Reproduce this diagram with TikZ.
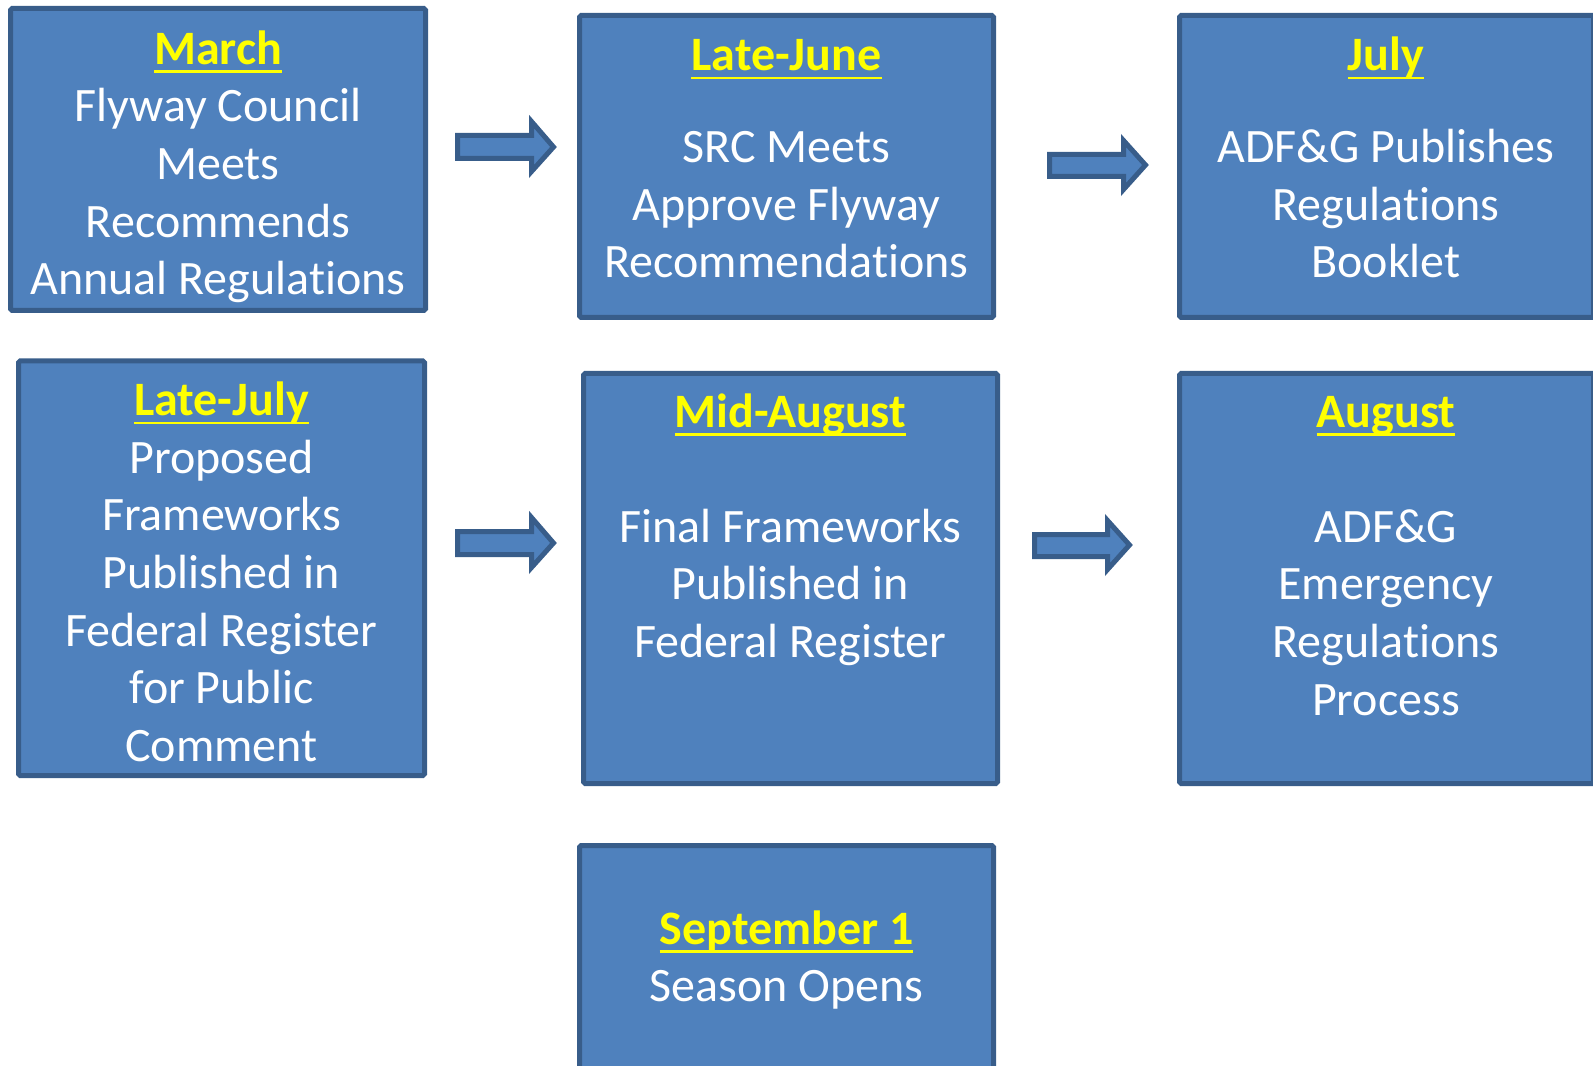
\documentclass[tikz,border=0pt]{standalone}
\usepackage{fontspec}
\setmainfont{Carlito}[Ligatures=NoCommon]
\usetikzlibrary{fit}
\definecolor{boxfill}{HTML}{4F81BD}
\definecolor{boxline}{HTML}{385D8A}
\definecolor{headyellow}{HTML}{FFFF00}
\newcommand\hdul[1]{\setbox0\hbox{#1}\rlap{\rule[-6.4pt]{\wd0}{2.1pt}}\box0}
\newcommand\hd[1]{\rule{0pt}{30pt}{\color{headyellow}\bfseries\hdul{#1}}}
\newcommand\blockarrow[8]{\draw[barrow] (#1,#4) -- (#2,#4) -- (#2,#6) -- (#3,#8) -- (#2,#7) -- (#2,#5) -- (#1,#5) -- cycle;}
\begin{document}
\begin{tikzpicture}[x=0.75pt,y=-0.75pt,
  box/.style={draw=boxline, fill=boxfill, line width=3.75pt, rounded corners=1.2pt, inner sep=0pt},
  txt/.style={anchor=north, align=center, text=white, inner sep=0pt, font=\fontsize{36}{43.2}\selectfont},
  barrow/.style={draw=boxline, fill=boxfill, line width=3.75pt, line join=miter}]
\useasboundingbox (0,0) rectangle (1593,1066);
\clip (0,0) rectangle (1593,1066);
% boxes
\node[box, fit={(10.5,8.5)(425.5,310.5)}] (march) {};
\node[box, fit={(579.5,15.5)(993.5,317.5)}] (latejune) {};
\node[box, fit={(1179.5,15.5)(1593.5,317.5)}] (july) {};
\node[box, fit={(18.5,361)(424.5,775.5)}] (latejuly) {};
\node[box, fit={(583.5,373.5)(997.5,783.5)}] (midaug) {};
\node[box, fit={(1179.5,373.5)(1593.5,783.5)}] (aug) {};
\node[box, fit={(579.5,845.5)(993.5,1100)}] (sept) {};
% texts
\node[txt] (marcht) at (218,24) {\hd{March}\\Flyway Council\\Meets\\Recommends\\Annual Regulations};
\node[txt] (latejunet) at (786.5,30.5) {\hd{Late-June}\\[25.6pt]SRC Meets\\Approve Flyway\\Recommendations};
\node[txt] (julyt) at (1386,30.5) {\hd{July}\\[25.6pt]ADF\&G Publishes\\Regulations\\Booklet};
\node[txt] (latejulyt) at (221.5,375.5) {\hd{Late-July}\\Proposed\\Frameworks\\Published in\\Federal Register\\for Public\\Comment};
\node[txt] (midaugt) at (790.5,387) {\hd{Mid-August}\\[43pt]Final Frameworks\\Published in\\Federal Register};
\node[txt] (augt) at (1386,387) {\hd{August}\\[43pt]ADF\&G\\Emergency\\Regulations\\Process};
\node[txt] (septt) at (786.5,904) {\hd{September 1}\\Season Opens};
% block arrows
\blockarrow{457.5}{531.5}{553.5}{135.5}{158.5}{121.5}{171.5}{147}
\blockarrow{1049.5}{1123.5}{1145.5}{154.5}{176.5}{140.5}{189.5}{165}
\blockarrow{457.5}{531.5}{553.5}{531.5}{554.5}{517.5}{567.5}{543}
\blockarrow{1034.5}{1107.5}{1129.5}{534.5}{556.5}{520.5}{569.5}{545}
\end{tikzpicture}
\end{document}
